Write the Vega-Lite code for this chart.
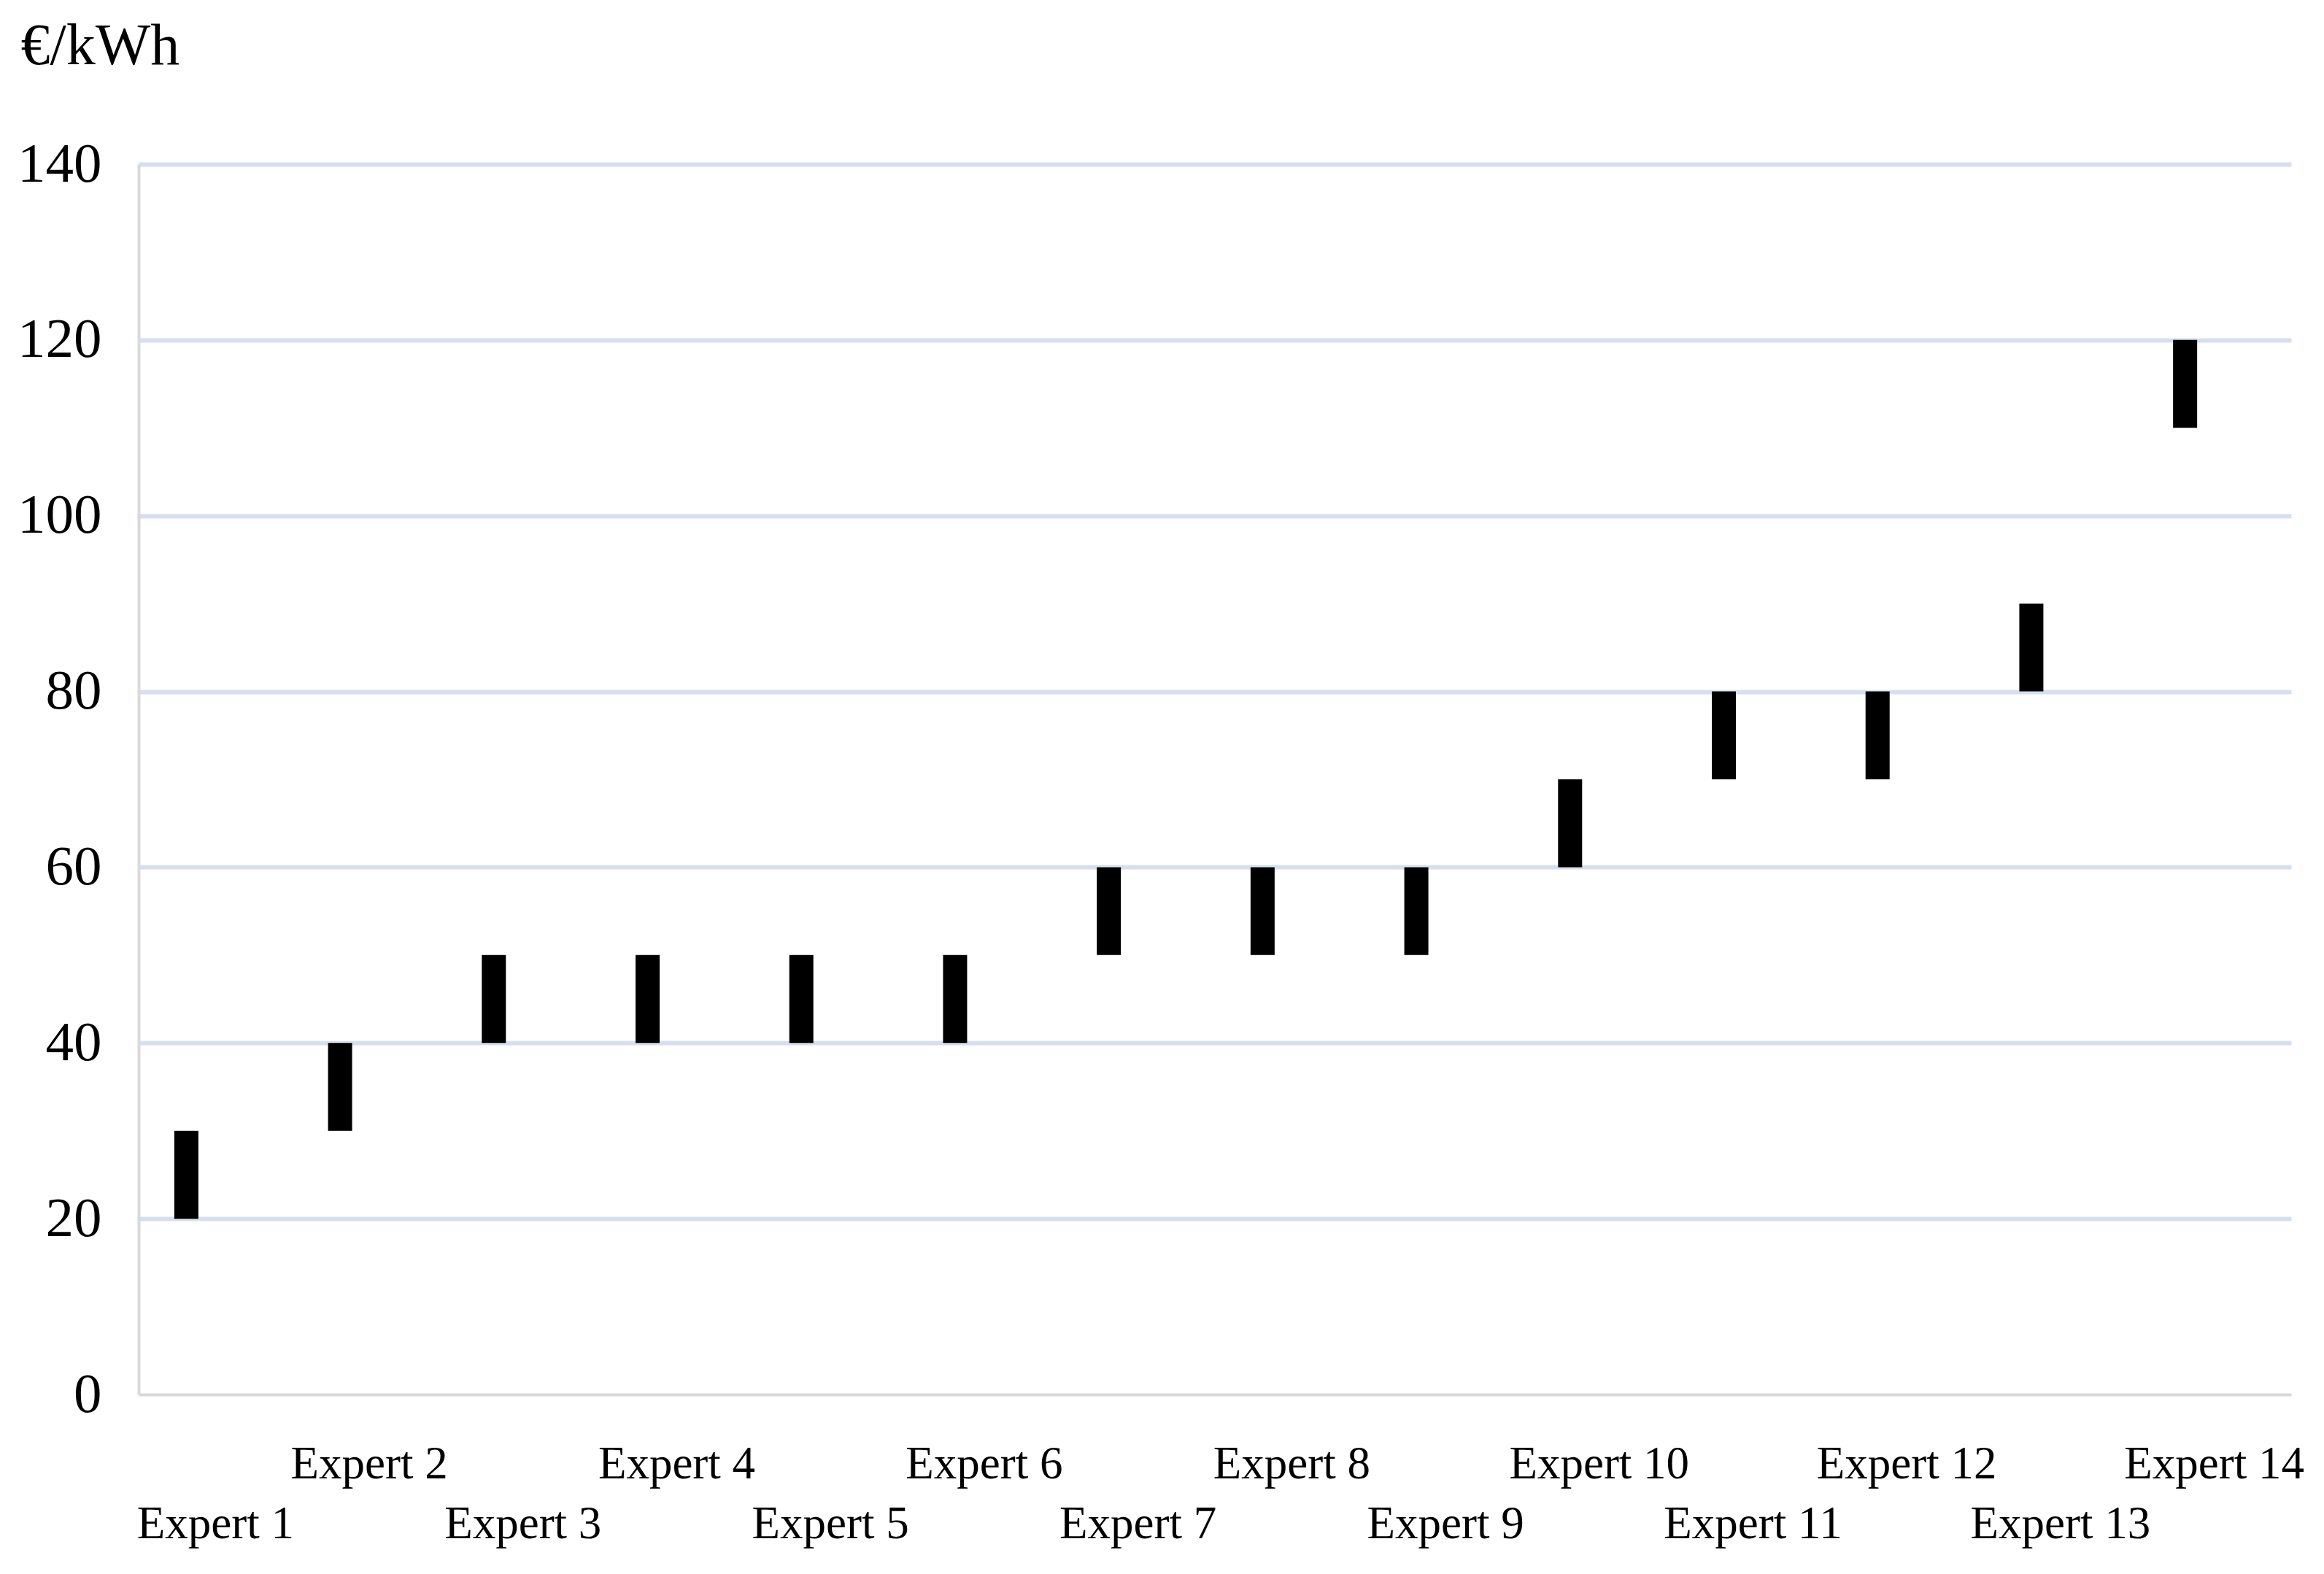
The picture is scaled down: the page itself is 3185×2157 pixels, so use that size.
{
  "$schema": "https://vega.github.io/schema/vega-lite/v6.json",
  "autosize": {"type": "none"},
  "width": 2950,
  "height": 1686,
  "padding": {"left": 190, "top": 225, "right": 45, "bottom": 246},
  "background": "white",
  "config": {
    "view": {"stroke": null},
    "font": "Liberation Serif"
  },
  "data": {
    "values": [
      {"expert": "Expert 1", "low": 20, "high": 30},
      {"expert": "Expert 2", "low": 30, "high": 40},
      {"expert": "Expert 3", "low": 40, "high": 50},
      {"expert": "Expert 4", "low": 40, "high": 50},
      {"expert": "Expert 5", "low": 40, "high": 50},
      {"expert": "Expert 6", "low": 40, "high": 50},
      {"expert": "Expert 7", "low": 50, "high": 60},
      {"expert": "Expert 8", "low": 50, "high": 60},
      {"expert": "Expert 9", "low": 50, "high": 60},
      {"expert": "Expert 10", "low": 60, "high": 70},
      {"expert": "Expert 11", "low": 70, "high": 80},
      {"expert": "Expert 12", "low": 70, "high": 80},
      {"expert": "Expert 13", "low": 80, "high": 90},
      {"expert": "Expert 14", "low": 110, "high": 120}
    ]
  },
  "mark": {"type": "bar", "color": "#000000", "width": 33, "xOffset": -40},
  "encoding": {
    "x": {
      "field": "expert",
      "type": "nominal",
      "sort": null,
      "scale": {"paddingInner": 0, "paddingOuter": 0},
      "axis": {
        "title": null,
        "labelAngle": 0,
        "labelFont": "Liberation Serif",
        "labelFontSize": 63,
        "labelColor": "#000000",
        "labelBaseline": "alphabetic",
        "labelPadding": {"condition": {"test": "parseInt(replace(datum.label, 'Expert ', '')) % 2 == 0", "value": 114}, "value": 196},
        "labelLimit": 2000,
        "labelOverlap": false,
        "labelBound": false,
        "labelFlush": false,
        "ticks": false,
        "tickSize": 0,
        "domain": true,
        "domainColor": "#d9d9d9",
        "domainWidth": 4,
        "grid": false,
        "zindex": 1
      }
    },
    "y": {
      "field": "low",
      "type": "quantitative",
      "scale": {"domain": [0, 140], "nice": false},
      "axis": {
        "title": "€/kWh",
        "titleAngle": 0,
        "titleAlign": "left",
        "titleBaseline": "alphabetic",
        "titleX": -162,
        "titleY": -138,
        "titleFont": "Liberation Serif",
        "titleFontSize": 80,
        "titleFontWeight": "normal",
        "titleColor": "#000000",
        "titleLimit": 2000,
        "values": [0, 20, 40, 60, 80, 100, 120, 140],
        "labelFont": "Liberation Serif",
        "labelFontSize": 77,
        "labelColor": "#000000",
        "labelPadding": 51,
        "labelBaseline": "middle",
        "ticks": false,
        "tickSize": 0,
        "domain": true,
        "domainColor": "#d9d9d9",
        "domainWidth": 4,
        "grid": true,
        "gridColor": "#d6dff0",
        "gridWidth": 6,
        "gridOpacity": {"condition": {"test": "datum.value == 0", "value": 0}, "value": 1}
      }
    },
    "y2": {"field": "high"}
  }
}
